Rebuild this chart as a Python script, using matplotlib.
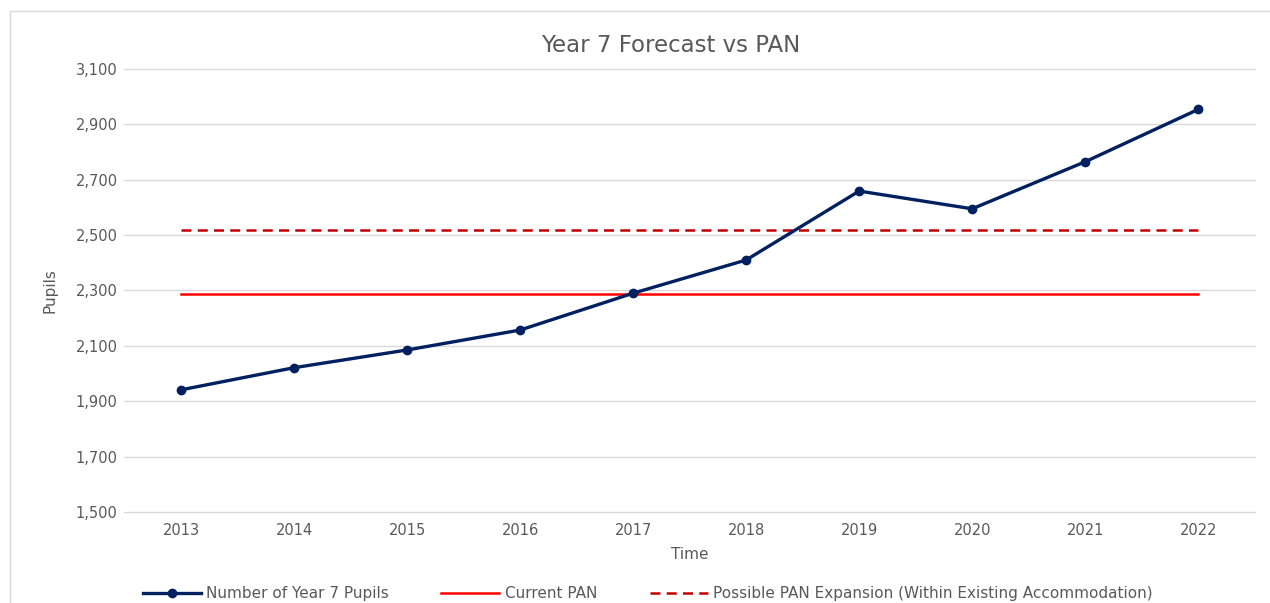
import matplotlib.pyplot as plt
from matplotlib.patches import Rectangle

# data
years = ["2013", "2014", "2015", "2016", "2017", "2018", "2019", "2020", "2021", "2022"]
pupils = [1941, 2021, 2085, 2157, 2290, 2410, 2659, 2595, 2765, 2954]
current_pan = 2287
pan_expansion = 2517
y_ticks = [1500, 1700, 1900, 2100, 2300, 2500, 2700, 2900, 3100]

plt.rcParams["font.family"] = ["DejaVu Sans"]

fig = plt.figure(figsize=(12.7, 6.03), dpi=100)
ax = fig.add_axes([0.098, 0.151, 0.89, 0.7346])

# outer chart border (runs off the bottom and right edge like the source)
fig.patches.append(Rectangle((10 / 1270, -0.05), 1.0, 1.05 - 11 / 603, transform=fig.transFigure,
                             fill=False, edgecolor="#d9d9d9", linewidth=1))

x = range(len(years))
ax.plot(x, pupils, color="#002060", linewidth=2.4, marker="o", markersize=6,
        label="Number of Year 7 Pupils", zorder=3)
ax.plot([0, len(years) - 1], [current_pan, current_pan], color="#ff0000", linewidth=1.8,
        label="Current PAN", zorder=2)
ax.plot([0, len(years) - 1], [pan_expansion, pan_expansion], color="#c00000", linewidth=1.8,
        linestyle=(0, (4, 2.5)), label="Possible PAN Expansion (Within Existing Accommodation)", zorder=2)

ax.set_xlim(-0.5, len(years) - 0.5)
ax.set_ylim(1500, 3100)
ax.set_xticks(list(x))
ax.set_xticklabels(years)
ax.set_yticks(y_ticks)
ax.set_yticklabels([f"{v:,}" for v in y_ticks])
ax.tick_params(length=0, labelsize=10.5, colors="#595959")
ax.tick_params(axis="x", pad=8)
ax.tick_params(axis="y", pad=5)
ax.grid(axis="y", color="#d9d9d9", linewidth=1)
for gl in ax.get_ygridlines():
    gl.set_clip_on(False)
ax.set_axisbelow(True)
for s in ax.spines.values():
    s.set_visible(False)

ax.set_xlabel("Time", fontsize=11, color="#595959", labelpad=6.5)
ax.set_ylabel("Pupils", fontsize=11, color="#595959", labelpad=13)
fig.text(0.528, 0.925, "Year 7 Forecast vs PAN", ha="center", va="center",
         fontsize=16.5, color="#595959")

fig.legend(loc="center", bbox_to_anchor=(0.51, 0.015), ncol=3, frameon=False,
           fontsize=11, handlelength=3.8, handletextpad=0.35, columnspacing=3.45,
           labelcolor="#595959")

fig.savefig("out.png", dpi=100)
